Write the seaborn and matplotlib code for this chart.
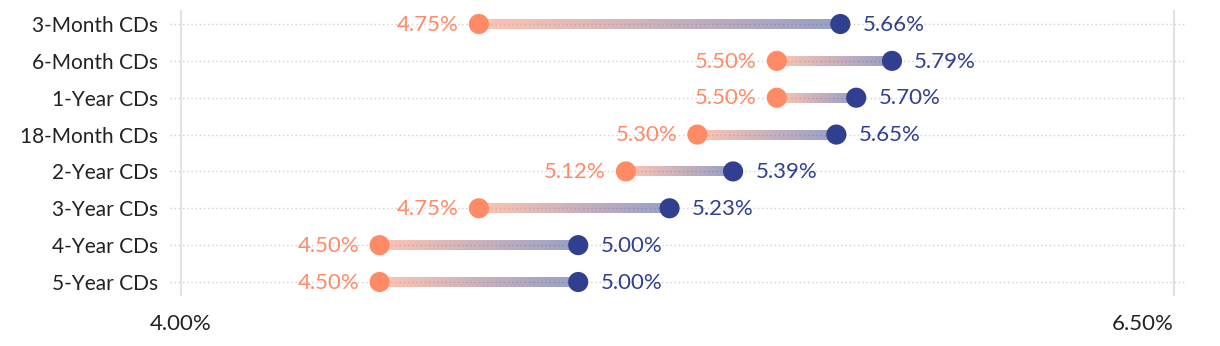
import numpy as np
import pandas as pd
import matplotlib
matplotlib.use("Agg")
import matplotlib.pyplot as plt
import seaborn as sns
from matplotlib.collections import LineCollection
from matplotlib.colors import to_rgb

categories = ["3-Month CDs", "6-Month CDs", "1-Year CDs", "18-Month CDs",
              "2-Year CDs", "3-Year CDs", "4-Year CDs", "5-Year CDs"]
low_rates = [4.75, 5.50, 5.50, 5.30, 5.12, 4.75, 4.50, 4.50]
high_rates = [5.66, 5.79, 5.70, 5.65, 5.39, 5.23, 5.00, 5.00]
x_ticks = [4.00, 6.50]
x_tick_labels = ["4.00%", "6.50%"]

ORANGE = "#ff8a65"
NAVY = "#303f8f"
TEXT = "#222222"

sns.set_theme(style="white")
plt.rcParams['font.family'] = ['Lato', 'DejaVu Sans']
FS_CAT = 15
FS_NUM = 16

fig = plt.figure(figsize=(12.2, 3.46), dpi=100)
ax = fig.add_axes([170 / 1220, 50 / 346, 1015 / 1220, 286 / 346])

pos = np.arange(len(categories))
df = pd.DataFrame({
    "pos": np.concatenate([pos, pos]),
    "rate": low_rates + high_rates,
    "kind": ["low"] * len(pos) + ["high"] * len(pos),
})

# gradient connecting lines
c0 = np.array(to_rgb(ORANGE))
c1 = np.array(to_rgb(NAVY))
for i, (lo, hi) in enumerate(zip(low_rates, high_rates)):
    n = 80
    xs = np.linspace(lo, hi, n + 1)
    segs = [[(xs[k], i), (xs[k + 1], i)] for k in range(n)]
    t = np.linspace(0, 1, n)
    cols = [(*(c0 * (1 - tt) + c1 * tt), 0.5) for tt in t]
    lc = LineCollection(segs, colors=cols, linewidths=7.2, capstyle='butt',
                        antialiased=False, zorder=2)
    ax.add_collection(lc)

sns.scatterplot(data=df, x="rate", y="pos", hue="kind",
                palette={"low": ORANGE, "high": NAVY}, s=210,
                edgecolor="none", linewidth=0, legend=False, zorder=3, ax=ax)

for i, (lo, hi) in enumerate(zip(low_rates, high_rates)):
    ax.annotate(f"{lo:.2f}%", xy=(lo, i), xytext=(-14.5, -0.5),
                textcoords="offset points", ha="right", va="center",
                color=ORANGE, fontsize=FS_NUM)
    ax.annotate(f"{hi:.2f}%", xy=(hi, i), xytext=(16, -0.5),
                textcoords="offset points", ha="left", va="center",
                color=NAVY, fontsize=FS_NUM)

ax.set_xlim(4.0 - 11 / 397.2, 6.5 + 11 / 397.2)
ax.set_ylim(len(categories) - 1 + 0.38, -0.38)
ax.set_yticks(pos)
ax.set_yticklabels(categories, fontsize=FS_CAT, color=TEXT)
ax.set_xticks(x_ticks)
ax.set_xticklabels(x_tick_labels, fontsize=FS_NUM, color=TEXT)
labs = ax.get_xticklabels()
labs[0].set_ha("center")
labs[-1].set_ha("right")
ax.tick_params(axis="both", length=0)
ax.tick_params(axis="x", pad=13)
ax.tick_params(axis="y", pad=8.5)
ax.set_xlabel("")
ax.set_ylabel("")
ax.grid(axis="y", linestyle=(0, (1, 2)), color="#cfcfcf", linewidth=1)
ax.grid(axis="x", linestyle="-", color="#e2e2e2", linewidth=1.5)
ax.set_axisbelow(True)
for s in ax.spines.values():
    s.set_visible(False)

fig.savefig("out.png", dpi=100)
